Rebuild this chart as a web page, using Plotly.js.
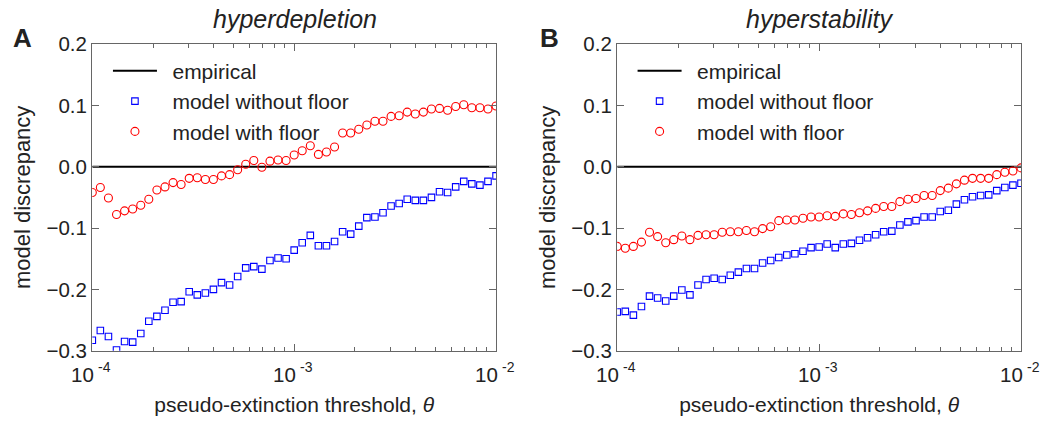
<!DOCTYPE html>
<html>
<head>
<meta charset="utf-8">
<script src="https://cdn.plot.ly/plotly-3.0.1.min.js"></script>
<style>html,body{margin:0;padding:0;background:#fff;}#chart{width:1043px;height:422px;}</style>
</head>
<body>
<div id="chart"></div>
<script>
// pseudo-extinction thresholds (theta), log-spaced from 1e-4 to 1e-2
const theta = [
  1.000e-4, 1.096e-4, 1.202e-4, 1.318e-4, 1.445e-4, 1.585e-4, 1.738e-4, 1.905e-4, 2.089e-4, 2.291e-4,
  2.512e-4, 2.754e-4, 3.020e-4, 3.311e-4, 3.631e-4, 3.981e-4, 4.365e-4, 4.786e-4, 5.248e-4, 5.754e-4,
  6.310e-4, 6.918e-4, 7.586e-4, 8.318e-4, 9.120e-4, 1.000e-3, 1.096e-3, 1.202e-3, 1.318e-3, 1.445e-3,
  1.585e-3, 1.738e-3, 1.905e-3, 2.089e-3, 2.291e-3, 2.512e-3, 2.754e-3, 3.020e-3, 3.311e-3, 3.631e-3,
  3.981e-3, 4.365e-3, 4.786e-3, 5.248e-3, 5.754e-3, 6.310e-3, 6.918e-3, 7.586e-3, 8.318e-3, 9.120e-3,
  1.000e-2
];
const empiricalTheta = [1e-4, 1e-2];
const empiricalValue = [0, 0];

// Panel A: hyperdepletion
const depletionNoFloor = [
  -0.283, -0.267, -0.277, -0.299, -0.285, -0.286, -0.272, -0.252, -0.244, -0.234,
  -0.221, -0.220, -0.204, -0.209, -0.206, -0.200, -0.189, -0.193, -0.179, -0.165,
  -0.163, -0.167, -0.153, -0.149, -0.150, -0.136, -0.124, -0.112, -0.129, -0.129,
  -0.122, -0.106, -0.110, -0.097, -0.083, -0.082, -0.075, -0.064, -0.060, -0.053,
  -0.055, -0.055, -0.050, -0.041, -0.042, -0.033, -0.024, -0.028, -0.030, -0.024,
  -0.015
];
const depletionFloor = [
  -0.042, -0.034, -0.051, -0.078, -0.072, -0.069, -0.063, -0.053, -0.038, -0.033,
  -0.026, -0.029, -0.019, -0.018, -0.021, -0.021, -0.015, -0.013, -0.005, 0.004,
  0.010, -0.001, 0.009, 0.011, 0.010, 0.019, 0.026, 0.034, 0.020, 0.024,
  0.032, 0.055, 0.055, 0.061, 0.068, 0.074, 0.074, 0.082, 0.083, 0.089,
  0.086, 0.089, 0.094, 0.095, 0.092, 0.098, 0.101, 0.096, 0.096, 0.094,
  0.099
];

// Panel B: hyperstability
const stabilityNoFloor = [
  -0.237, -0.236, -0.242, -0.228, -0.211, -0.214, -0.219, -0.211, -0.201, -0.209,
  -0.193, -0.184, -0.182, -0.184, -0.177, -0.172, -0.166, -0.166, -0.157, -0.153,
  -0.148, -0.144, -0.142, -0.138, -0.132, -0.131, -0.126, -0.132, -0.126, -0.125,
  -0.120, -0.116, -0.111, -0.106, -0.105, -0.095, -0.090, -0.088, -0.082, -0.082,
  -0.073, -0.071, -0.061, -0.054, -0.049, -0.047, -0.046, -0.039, -0.034, -0.030,
  -0.027
];
const stabilityFloor = [
  -0.130, -0.133, -0.130, -0.123, -0.107, -0.114, -0.124, -0.119, -0.113, -0.119,
  -0.112, -0.111, -0.111, -0.107, -0.106, -0.106, -0.104, -0.106, -0.101, -0.098,
  -0.088, -0.087, -0.087, -0.084, -0.082, -0.082, -0.080, -0.081, -0.077, -0.078,
  -0.075, -0.072, -0.068, -0.065, -0.065, -0.057, -0.053, -0.052, -0.047, -0.047,
  -0.039, -0.035, -0.028, -0.022, -0.019, -0.019, -0.019, -0.013, -0.009, -0.007,
  -0.002
];

const seriesNames = ['empirical', 'model without floor', 'model with floor'];
const panelTitles = ['hyperdepletion', 'hyperstability'];
const panelLetters = ['A', 'B'];
const xTicks = [1e-4, 1e-3, 1e-2];
const xTickBase = '10';
const xTickExp = ['-4', '-3', '-2'];
const yTicks = [-0.3, -0.2, -0.1, 0.0, 0.1, 0.2];
const yTickText = ['\u22120.3', '\u22120.2', '\u22120.1', '0.0', '0.1', '0.2'];

const FONT = 'Liberation Sans, Arial, Helvetica, sans-serif';
const TXT = '#222';
const AXC = '#666';
const PAD = '\u2002';

function panelTraces(xa, ya, lg, noFloor, floor) {
  return [
    {x: empiricalTheta, y: empiricalValue, xaxis: xa, yaxis: ya, legend: lg, name: PAD + seriesNames[0],
     mode: 'lines', line: {color: '#000', width: 2}, cliponaxis: true},
    {x: theta, y: noFloor, xaxis: xa, yaxis: ya, legend: lg, name: PAD + seriesNames[1],
     mode: 'markers', marker: {symbol: 'square-open', size: 6.5, color: '#0000ff', line: {width: 1.1}}, cliponaxis: true},
    {x: theta, y: floor, xaxis: xa, yaxis: ya, legend: lg, name: PAD + seriesNames[2],
     mode: 'markers', marker: {symbol: 'circle-open', size: 8, color: '#ff0000', line: {width: 1.1}}, cliponaxis: true}
  ];
}

const data = [].concat(
  panelTraces('x', 'y', 'legend', depletionNoFloor, depletionFloor),
  panelTraces('x2', 'y2', 'legend2', stabilityNoFloor, stabilityFloor)
);

function xAxis(domain, anchor) {
  return {
    domain: domain, anchor: anchor, type: 'log', range: [-4, -2], dtick: 1,
    showticklabels: false,
    showgrid: false, zeroline: false,
    showline: true, linecolor: AXC, linewidth: 1.3, mirror: 'allticks',
    ticks: 'inside', ticklen: 7, tickcolor: AXC, tickwidth: 1,
    minor: {ticks: 'inside', ticklen: 4, tickcolor: AXC, tickwidth: 1, showgrid: false},
    title: {text: 'pseudo-extinction threshold, <i>\u03b8</i>', font: {family: FONT, size: 21, color: TXT}, standoff: 46}
  };
}
function yAxis(domain, anchor) {
  return {
    domain: domain, anchor: anchor, range: [-0.3, 0.2],
    tickmode: 'array', tickvals: yTicks, ticktext: yTickText,
    showgrid: false, zeroline: false,
    showline: true, linecolor: AXC, linewidth: 1.3, mirror: 'allticks',
    ticks: 'inside', ticklen: 7, tickcolor: AXC, tickwidth: 1,
    ticklabeloverflow: 'allow',
    tickfont: {family: FONT, size: 20.5, color: TXT},
    title: {text: 'model discrepancy', font: {family: FONT, size: 22, color: TXT}, standoff: 9}
  };
}

const yDom = [0.169, 0.8957];
const legendCommon = {
  bgcolor: 'rgba(0,0,0,0)', borderwidth: 0, font: {family: FONT, size: 21, color: TXT},
  xanchor: 'left', yanchor: 'top', tracegroupgap: 0, itemwidth: 44, traceorder: 'normal'
};

const annotations = [
  {text: '<i>' + panelTitles[0] + '</i>', xref: 'paper', yref: 'paper', x: 0.2825, y: 0.955, xanchor: 'center', yanchor: 'middle', showarrow: false, font: {family: FONT, size: 25, color: TXT}},
  {text: '<i>' + panelTitles[1] + '</i>', xref: 'paper', yref: 'paper', x: 0.7853, y: 0.955, xanchor: 'center', yanchor: 'middle', showarrow: false, font: {family: FONT, size: 25, color: TXT}},
  {text: '<b>' + panelLetters[0] + '</b>', xref: 'paper', yref: 'paper', x: 0.0105, y: 0.91, xanchor: 'left', yanchor: 'middle', showarrow: false, font: {family: FONT, size: 26, color: TXT}},
  {text: '<b>' + panelLetters[1] + '</b>', xref: 'paper', yref: 'paper', x: 0.5155, y: 0.91, xanchor: 'left', yanchor: 'middle', showarrow: false, font: {family: FONT, size: 26, color: TXT}}
];
// x tick labels: power-of-ten labels placed through each log axis (base + raised exponent)
['x', 'x2'].forEach(function (xr) {
  xTicks.forEach(function (v, i) {
    annotations.push({text: xTickBase, xref: xr, yref: 'paper', x: Math.log10(v), y: 0.1114,
      xanchor: 'right', yanchor: 'middle', xshift: 4, showarrow: false,
      font: {family: FONT, size: 20.5, color: TXT}});
    annotations.push({text: xTickExp[i], xref: xr, yref: 'paper', x: Math.log10(v), y: 0.1303,
      xanchor: 'left', yanchor: 'middle', xshift: 4, showarrow: false,
      font: {family: FONT, size: 14, color: TXT}});
  });
});

const layout = {
  width: 1043, height: 422,
  margin: {l: 0, r: 0, t: 0, b: 0},
  paper_bgcolor: '#fff', plot_bgcolor: '#fff',
  font: {family: FONT, color: TXT},
  showlegend: true,
  xaxis: xAxis([0.0885, 0.4756], 'y'),
  yaxis: yAxis(yDom, 'x'),
  xaxis2: xAxis([0.5918, 0.9789], 'y2'),
  yaxis2: yAxis(yDom, 'x2'),
  legend: Object.assign({x: 0.1035, y: 0.88}, legendCommon),
  legend2: Object.assign({x: 0.6065, y: 0.88}, legendCommon),
  annotations: annotations
};

Plotly.newPlot('chart', data, layout, {displayModeBar: false, staticPlot: true});
</script>
</body>
</html>
